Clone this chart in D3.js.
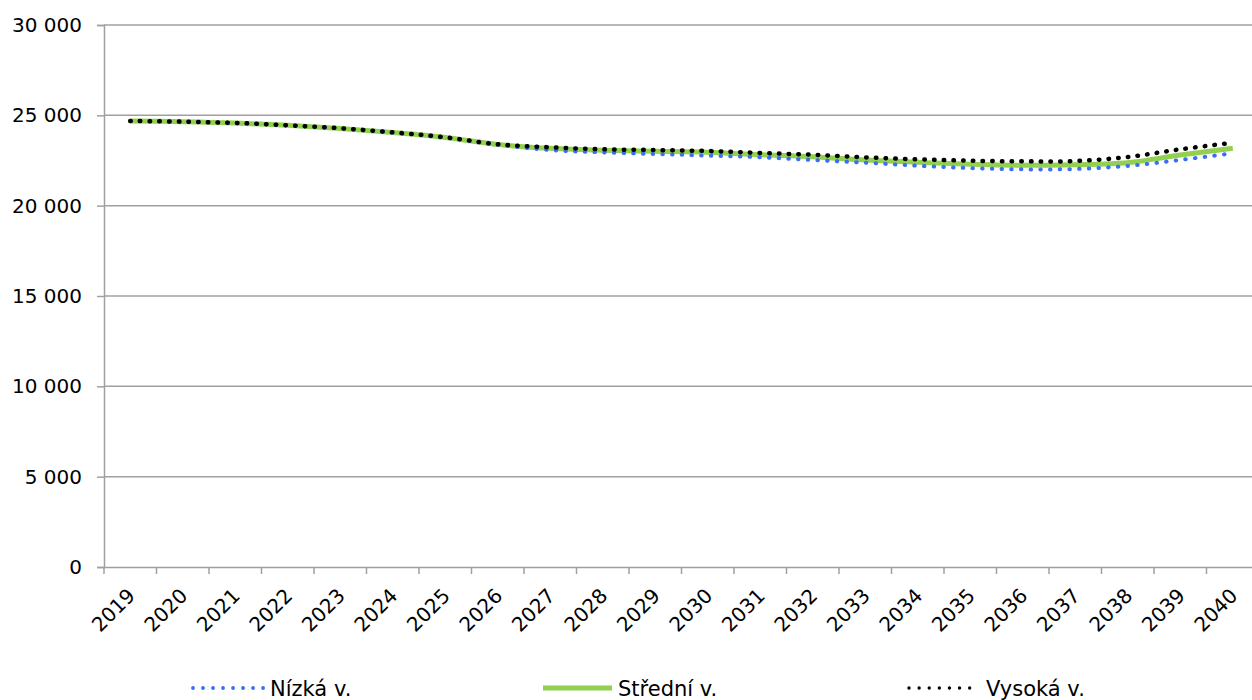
<!DOCTYPE html>
<html><head><meta charset="utf-8">
<script src="https://cdn.jsdelivr.net/npm/d3@7"></script>
<style>
html,body{margin:0;padding:0;background:#fff;}
svg{display:block;font-family:"DejaVu Sans",Verdana,sans-serif;}
</style></head>
<body><svg id="chart" width="1252" height="700"></svg>
<script>
const years = [2019,2020,2021,2022,2023,2024,2025,2026,2027,2028,2029,2030,2031,2032,2033,2034,2035,2036,2037,2038,2039,2040];
const nizka   = [24690,24650,24570,24440,24270,24040,23760,23370,23080,22950,22860,22770,22680,22530,22380,22210,22080,22010,22030,22200,22530,22900];
const stredni = [24690,24650,24575,24445,24275,24050,23775,23385,23175,23065,23010,22955,22820,22710,22530,22400,22290,22235,22270,22380,22800,23175];
const vysoka  = [24690,24650,24580,24450,24285,24060,23785,23400,23230,23120,23080,23025,22915,22820,22675,22565,22490,22455,22470,22695,23120,23485];
const yTicks = [0,5000,10000,15000,20000,25000,30000];
const seriesNames = ["Nízká v.","Střední v.","Vysoká v."];

const svg = d3.select("#chart");
const mLeft = 104, mRight = 104 + 22*52.5, mTop = 25, mBottom = 567;
const x = d3.scaleBand().domain(years).range([mLeft, mRight]);
const y = d3.scaleLinear().domain([0,30000]).range([mBottom, mTop]);
const fmt = v => d3.format(",")(v).replace(/,/g," ");
const grey = "#a0a0a0";

// gridlines
svg.append("g").selectAll("line").data(yTicks.filter(d=>d>0)).join("line")
  .attr("x1", mLeft).attr("x2", mRight)
  .attr("y1", d=>y(d)).attr("y2", d=>y(d))
  .attr("stroke", grey).attr("stroke-width", 1.5);

// y axis
const yAxis = svg.append("g").attr("transform",`translate(${mLeft},0)`)
  .call(d3.axisLeft(y).tickValues(yTicks).tickFormat(fmt).tickSize(7).tickPadding(15));
yAxis.select(".domain").attr("stroke", grey).attr("stroke-width",1.5);
yAxis.selectAll(".tick line").attr("stroke", grey).attr("stroke-width",1.5);
yAxis.selectAll("text").attr("font-size",20).attr("fill","#000")
  .attr("font-family","'DejaVu Sans',Verdana,sans-serif");

// x axis
const xAxis = svg.append("g").attr("transform",`translate(0,${mBottom})`)
  .call(d3.axisBottom(x).tickSize(0).tickFormat(""));
xAxis.select(".domain").attr("stroke", grey).attr("stroke-width",1.5);
svg.append("g").selectAll("line").data(d3.range(years.length+1)).join("line")
  .attr("x1", i=>mLeft + i*x.step()).attr("x2", i=>mLeft + i*x.step())
  .attr("y1", mBottom).attr("y2", mBottom+7)
  .attr("stroke", grey).attr("stroke-width",1.5);
svg.append("g").selectAll("text").data(years).join("text")
  .attr("transform", d=>`translate(${x(d)+x.bandwidth()/2+6},${mBottom+30}) rotate(-45)`)
  .attr("text-anchor","end").attr("font-size",20).attr("fill","#000")
  .text(d=>d);

// lines
const line = d3.line().x((d,i)=>x(years[i])+x.bandwidth()/2).y(d=>y(d)).curve(d3.curveCardinal.tension(0));
svg.append("path").datum(stredni).attr("d",line).attr("fill","none")
  .attr("stroke","#92d050").attr("stroke-width",5);
svg.append("path").datum(nizka).attr("d",line).attr("fill","none")
  .attr("stroke","#3a6ff5").attr("stroke-width",4).attr("stroke-linecap","round")
  .attr("stroke-dasharray","0.5 9.2");
svg.append("path").datum(vysoka).attr("d",line).attr("fill","none")
  .attr("stroke","#000").attr("stroke-width",4.5).attr("stroke-linecap","round")
  .attr("stroke-dasharray","0.5 9.2");

// legend
const ly = 688;
const lg = svg.append("g").attr("font-size",21);
lg.append("line").attr("x1",193).attr("x2",264).attr("y1",ly).attr("y2",ly)
  .attr("stroke","#3a6ff5").attr("stroke-width",3.8).attr("stroke-linecap","round").attr("stroke-dasharray","0.01 10");
lg.append("text").attr("x",270).attr("y",696).text(seriesNames[0]);
lg.append("line").attr("x1",543).attr("x2",612).attr("y1",ly).attr("y2",ly)
  .attr("stroke","#92d050").attr("stroke-width",5);
lg.append("text").attr("x",618).attr("y",696).text(seriesNames[1]);
lg.append("line").attr("x1",909).attr("x2",970).attr("y1",ly).attr("y2",ly)
  .attr("stroke","#000").attr("stroke-width",3.4).attr("stroke-linecap","round").attr("stroke-dasharray","0.01 10.1");
lg.append("text").attr("x",986).attr("y",696).text(seriesNames[2]);
</script></body></html>
